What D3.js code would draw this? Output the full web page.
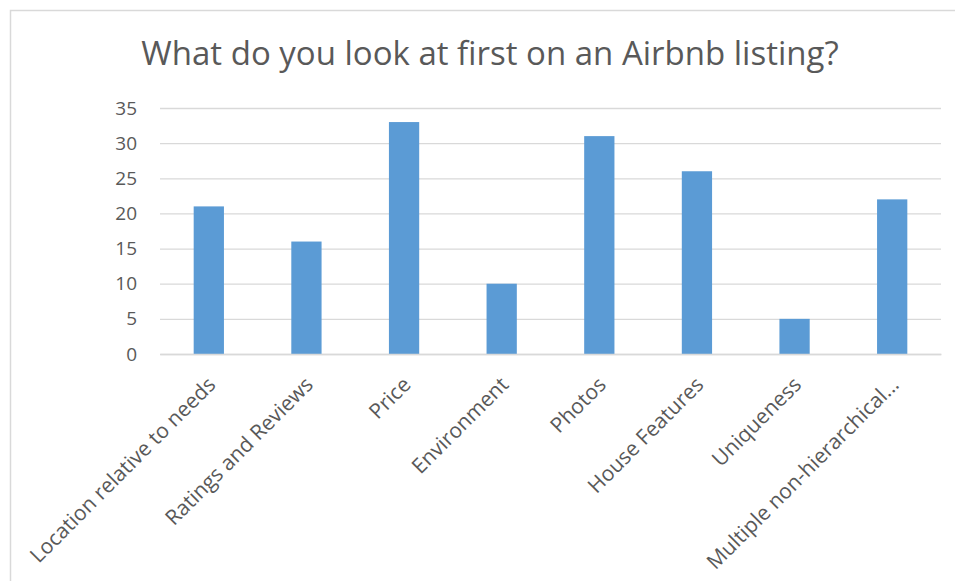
<!DOCTYPE html>
<html>
<head>
<meta charset="utf-8">
<script src="https://cdn.jsdelivr.net/npm/d3@7"></script>
<style>
  body { margin: 0; background: #fff; }
  svg { display: block; font-family: "Open Sans", sans-serif; }
</style>
</head>
<body>
<div id="chart"></div>
<script>
  // chart data
  const categories = [
    'Location relative to needs',
    'Ratings and Reviews',
    'Price',
    'Environment',
    'Photos',
    'House Features',
    'Uniqueness',
    'Multiple non-hierarchical...'
  ];
  const counts = [21, 16, 33, 10, 31, 26, 5, 22];
  const yTicks = [0, 5, 10, 15, 20, 25, 30, 35];
  const title = 'What do you look at first on an Airbnb listing?';

  const w = 955;
  const h = 581;
  const margin = { left: 160, right: 14, top: 108, bottom: 227 };
  const font = '"Open Sans", sans-serif';

  let svg = d3.select('#chart').append('svg')
      .attr('width', w)
      .attr('height', h);

  // outer chart border (runs off the picture at right/bottom)
  svg.append('rect')
      .attr('x', 10.5)
      .attr('y', 10.5)
      .attr('width', w + 20)
      .attr('height', h + 20)
      .attr('fill', 'none')
      .attr('stroke', '#d9d9d9')
      .attr('stroke-width', 1.5);

  const x = d3.scaleBand()
      .domain(categories)
      .range([margin.left, w - margin.right])
      .paddingInner(0.69)
      .paddingOuter(0.345);

  const y = d3.scaleLinear()
      .domain([0, 35])
      .range([h - margin.bottom, margin.top]);

  // gridlines
  svg.append('g')
      .attr('transform', `translate(${margin.left},0)`)
      .call(d3.axisLeft(y).tickValues(yTicks).tickSize(-(w - margin.right - margin.left)).tickFormat(''))
      .call(g => g.select('.domain').remove())
      .selectAll('line')
      .attr('stroke', '#d9d9d9')
      .attr('stroke-width', 1.3);

  // y labels
  svg.append('g')
      .attr('transform', `translate(${margin.left},0)`)
      .call(d3.axisLeft(y).tickValues(yTicks).tickSize(0).tickPadding(23))
      .call(g => g.select('.domain').remove())
      .selectAll('text')
      .attr('fill', '#595959')
      .style('font-size', '19px')
      .style('font-family', font);

  // bars
  svg.selectAll('.bar')
      .data(counts)
      .enter()
      .append('rect')
      .attr('class', 'bar')
      .attr('x', (d, i) => x(categories[i]))
      .attr('y', d => y(d))
      .attr('width', x.bandwidth())
      .attr('height', d => y(0) - y(d))
      .attr('fill', '#5b9bd5');

  // x axis
  svg.append('g')
      .attr('transform', `translate(0,${h - margin.bottom})`)
      .call(d3.axisBottom(x).tickSize(0).tickPadding(0))
      .call(g => g.select('.domain').attr('stroke', '#d9d9d9').attr('stroke-width', 1.5))
      .selectAll('text')
      .attr('fill', '#595959')
      .style('font-size', '21px')
      .style('font-family', font)
      .attr('text-anchor', 'end')
      .attr('dy', null)
      .attr('transform', 'translate(8,32) rotate(-45)');

  // title
  svg.append('text')
      .attr('x', 490)
      .attr('y', 65)
      .attr('text-anchor', 'middle')
      .attr('fill', '#595959')
      .style('font-size', '33px')
      .text(title);
</script>
</body>
</html>
